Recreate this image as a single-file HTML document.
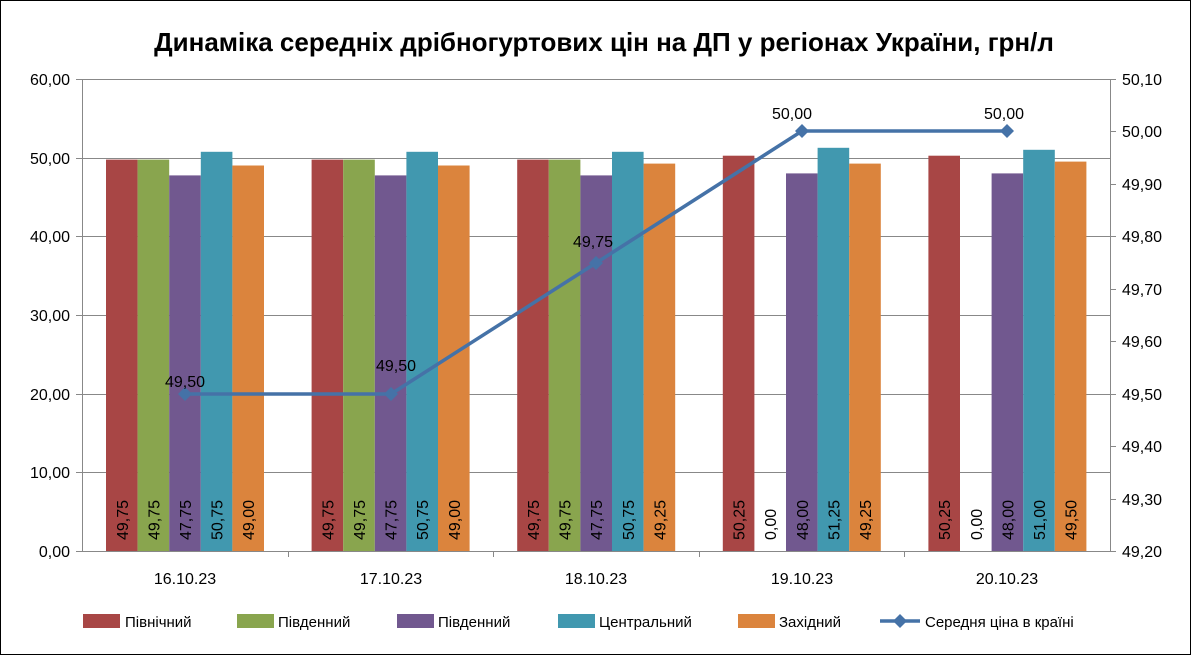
<!DOCTYPE html>
<html><head><meta charset="utf-8"><style>
html,body{margin:0;padding:0;background:#fff}
svg{display:block;font-family:"Liberation Sans","DejaVu Sans",sans-serif}
</style></head><body>
<svg width="1191" height="655" viewBox="0 0 1191 655" xmlns="http://www.w3.org/2000/svg">
<rect x="0.5" y="0.5" width="1190" height="654" fill="#fff" stroke="#000" stroke-width="1"/>
<text x="604" y="51" text-anchor="middle" font-size="26" font-weight="bold">Динаміка середніх дрібногуртових цін на ДП у регіонах України, грн/л</text>
<g stroke="#888" stroke-width="1">
<line x1="82" y1="79.5" x2="1110" y2="79.5"/>
<line x1="82" y1="158.5" x2="1110" y2="158.5"/>
<line x1="82" y1="236.5" x2="1110" y2="236.5"/>
<line x1="82" y1="315.5" x2="1110" y2="315.5"/>
<line x1="82" y1="394.5" x2="1110" y2="394.5"/>
<line x1="82" y1="472.5" x2="1110" y2="472.5"/>
<line x1="82.5" y1="79" x2="82.5" y2="551"/>
<line x1="1110.5" y1="79" x2="1110.5" y2="551"/>
<line x1="76" y1="551.5" x2="1116" y2="551.5"/>
<line x1="76" y1="79.5" x2="82" y2="79.5"/><line x1="76" y1="158.5" x2="82" y2="158.5"/><line x1="76" y1="236.5" x2="82" y2="236.5"/><line x1="76" y1="315.5" x2="82" y2="315.5"/><line x1="76" y1="394.5" x2="82" y2="394.5"/><line x1="76" y1="472.5" x2="82" y2="472.5"/>
<line x1="1110" y1="79.5" x2="1116" y2="79.5"/><line x1="1110" y1="131.5" x2="1116" y2="131.5"/><line x1="1110" y1="184.5" x2="1116" y2="184.5"/><line x1="1110" y1="236.5" x2="1116" y2="236.5"/><line x1="1110" y1="289.5" x2="1116" y2="289.5"/><line x1="1110" y1="341.5" x2="1116" y2="341.5"/><line x1="1110" y1="394.5" x2="1116" y2="394.5"/><line x1="1110" y1="446.5" x2="1116" y2="446.5"/><line x1="1110" y1="499.5" x2="1116" y2="499.5"/>
<line x1="288.5" y1="551" x2="288.5" y2="557"/><line x1="493.5" y1="551" x2="493.5" y2="557"/><line x1="699.5" y1="551" x2="699.5" y2="557"/><line x1="904.5" y1="551" x2="904.5" y2="557"/>
</g>
<g font-size="16" text-anchor="end">
<text x="70" y="85">60,00</text><text x="70" y="164">50,00</text><text x="70" y="242">40,00</text><text x="70" y="321">30,00</text><text x="70" y="400">20,00</text><text x="70" y="478">10,00</text><text x="70" y="557">0,00</text>
</g>
<g font-size="16">
<text x="1122" y="85">50,10</text><text x="1122" y="137">50,00</text><text x="1122" y="190">49,90</text><text x="1122" y="242">49,80</text><text x="1122" y="295">49,70</text><text x="1122" y="347">49,60</text><text x="1122" y="400">49,50</text><text x="1122" y="452">49,40</text><text x="1122" y="505">49,30</text><text x="1122" y="557">49,20</text>
</g>
<g font-size="16" text-anchor="middle">
<text x="185" y="584">16.10.23</text><text x="391" y="584">17.10.23</text><text x="596" y="584">18.10.23</text><text x="802" y="584">19.10.23</text><text x="1007" y="584">20.10.23</text>
</g>
<g>
<rect x="106" y="159.6" width="31.6" height="391.4" fill="#A84645"/>
<rect x="137.6" y="159.6" width="31.6" height="391.4" fill="#89A54E"/>
<rect x="169.2" y="175.4" width="31.6" height="375.6" fill="#71588F"/>
<rect x="200.8" y="151.8" width="31.6" height="399.2" fill="#4198AF"/>
<rect x="232.4" y="165.5" width="31.6" height="385.5" fill="#DB843D"/>
<rect x="311.6" y="159.6" width="31.6" height="391.4" fill="#A84645"/>
<rect x="343.2" y="159.6" width="31.6" height="391.4" fill="#89A54E"/>
<rect x="374.8" y="175.4" width="31.6" height="375.6" fill="#71588F"/>
<rect x="406.4" y="151.8" width="31.6" height="399.2" fill="#4198AF"/>
<rect x="438" y="165.5" width="31.6" height="385.5" fill="#DB843D"/>
<rect x="517.2" y="159.6" width="31.6" height="391.4" fill="#A84645"/>
<rect x="548.8" y="159.6" width="31.6" height="391.4" fill="#89A54E"/>
<rect x="580.4" y="175.4" width="31.6" height="375.6" fill="#71588F"/>
<rect x="612" y="151.8" width="31.6" height="399.2" fill="#4198AF"/>
<rect x="643.6" y="163.6" width="31.6" height="387.4" fill="#DB843D"/>
<rect x="722.8" y="155.7" width="31.6" height="395.3" fill="#A84645"/>
<rect x="786" y="173.4" width="31.6" height="377.6" fill="#71588F"/>
<rect x="817.6" y="147.8" width="31.6" height="403.2" fill="#4198AF"/>
<rect x="849.2" y="163.6" width="31.6" height="387.4" fill="#DB843D"/>
<rect x="928.4" y="155.7" width="31.6" height="395.3" fill="#A84645"/>
<rect x="991.6" y="173.4" width="31.6" height="377.6" fill="#71588F"/>
<rect x="1023.2" y="149.8" width="31.6" height="401.2" fill="#4198AF"/>
<rect x="1054.8" y="161.6" width="31.6" height="389.4" fill="#DB843D"/>
</g>
<g font-size="16">
<text transform="translate(127.8,540) rotate(-90)">49,75</text>
<text transform="translate(159.4,540) rotate(-90)">49,75</text>
<text transform="translate(191,540) rotate(-90)">47,75</text>
<text transform="translate(222.6,540) rotate(-90)">50,75</text>
<text transform="translate(254.2,540) rotate(-90)">49,00</text>
<text transform="translate(333.4,540) rotate(-90)">49,75</text>
<text transform="translate(365,540) rotate(-90)">49,75</text>
<text transform="translate(396.6,540) rotate(-90)">47,75</text>
<text transform="translate(428.2,540) rotate(-90)">50,75</text>
<text transform="translate(459.8,540) rotate(-90)">49,00</text>
<text transform="translate(539,540) rotate(-90)">49,75</text>
<text transform="translate(570.6,540) rotate(-90)">49,75</text>
<text transform="translate(602.2,540) rotate(-90)">47,75</text>
<text transform="translate(633.8,540) rotate(-90)">50,75</text>
<text transform="translate(665.4,540) rotate(-90)">49,25</text>
<text transform="translate(744.6,540) rotate(-90)">50,25</text>
<text transform="translate(776.2,540) rotate(-90)">0,00</text>
<text transform="translate(807.8,540) rotate(-90)">48,00</text>
<text transform="translate(839.4,540) rotate(-90)">51,25</text>
<text transform="translate(871,540) rotate(-90)">49,25</text>
<text transform="translate(950.2,540) rotate(-90)">50,25</text>
<text transform="translate(981.8,540) rotate(-90)">0,00</text>
<text transform="translate(1013.4,540) rotate(-90)">48,00</text>
<text transform="translate(1045,540) rotate(-90)">51,00</text>
<text transform="translate(1076.6,540) rotate(-90)">49,50</text>
</g>
<polyline points="185,394 391,394 596,263 802,131 1007,131" fill="none" stroke="#4572A7" stroke-width="3.5"/>
<g fill="#4572A7">
<path d="M185 387l7 7-7 7-7-7z"/><path d="M391 387l7 7-7 7-7-7z"/><path d="M596 256l7 7-7 7-7-7z"/><path d="M802 124l7 7-7 7-7-7z"/><path d="M1007 124l7 7-7 7-7-7z"/>
</g>
<g font-size="16" text-anchor="middle">
<text x="185" y="387">49,50</text><text x="396" y="371">49,50</text><text x="593" y="247">49,75</text><text x="792" y="119">50,00</text><text x="1004" y="119">50,00</text>
</g>
<g font-size="15">
<rect x="83" y="614" width="37" height="14" fill="#A84645"/><text x="125" y="627">Північний</text>
<rect x="237" y="614" width="37" height="14" fill="#89A54E"/><text x="278" y="627">Південний</text>
<rect x="397" y="614" width="37" height="14" fill="#71588F"/><text x="438" y="627">Південний</text>
<rect x="558" y="614" width="37" height="14" fill="#4198AF"/><text x="599" y="627">Центральний</text>
<rect x="738" y="614" width="37" height="14" fill="#DB843D"/><text x="779" y="627">Західний</text>
<line x1="880" y1="621" x2="920" y2="621" stroke="#4572A7" stroke-width="3.5"/><path d="M900 614l7 7-7 7-7-7z" fill="#4572A7"/><text x="925" y="627">Середня ціна в країні</text>
</g>
</svg>
</body></html>
